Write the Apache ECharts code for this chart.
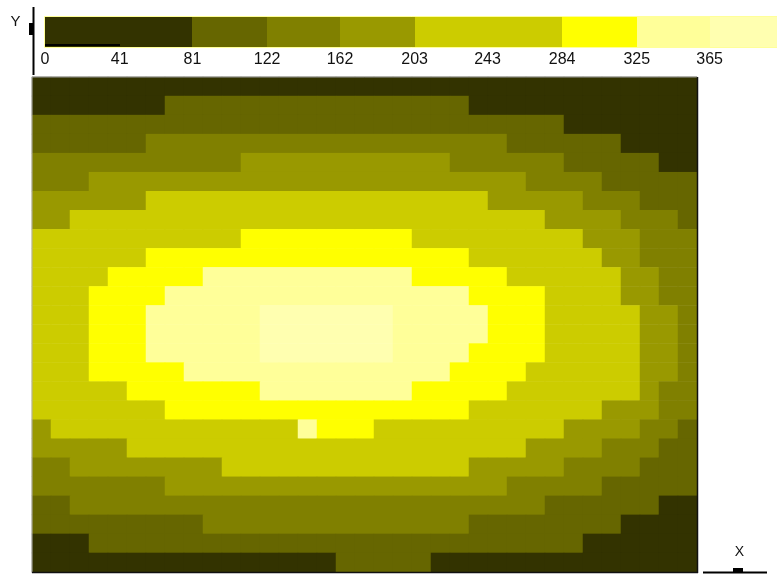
<!DOCTYPE html>
<html><head><meta charset="utf-8">
<script src="https://cdn.jsdelivr.net/npm/echarts@6/dist/echarts.min.js"></script>
<style>html,body{margin:0;padding:0;background:#fff}#c{width:777px;height:575px}</style>
</head><body><div id="c"></div>
<script>
// Grid columns (X) and rows (Y, top to bottom)
const xCols = [0,1,2,3,4,5,6,7,8,9,10,11,12,13,14,15,16,17,18,19,20,21,22,23,24,25,26,27,28,29,30,31,32,33,34];
const yRows = [0,1,2,3,4,5,6,7,8,9,10,11,12,13,14,15,16,17,18,19,20,21,22,23,24,25];

// Field values (one array per row, top to bottom)
const fieldRows = [
[60,60,60,60,60,60,60,60,60,60,60,60,60,60,60,60,60,60,60,60,60,60,60,60,60,60,60,60,60,60,30,30,30,30,30],
[60,60,60,60,60,60,60,100,100,100,100,100,100,100,100,100,100,100,100,100,100,100,100,60,60,60,60,60,60,60,60,60,60,60,60],
[100,100,100,100,100,100,100,100,100,100,100,100,100,100,100,100,100,100,100,100,100,100,100,100,100,100,100,100,60,60,60,60,60,60,60],
[100,100,100,100,100,100,142,142,142,142,142,142,142,142,142,142,142,142,142,142,142,142,142,142,142,100,100,100,100,100,100,60,60,60,60],
[142,142,142,142,142,142,142,142,142,142,142,182,182,182,182,182,182,182,182,182,182,182,142,142,142,142,142,142,100,100,100,100,100,60,60],
[142,142,142,182,182,182,182,182,182,182,182,182,182,182,182,182,182,182,182,182,182,182,182,182,182,182,142,142,142,142,100,100,100,100,100],
[182,182,182,182,182,182,243,243,243,243,243,243,243,243,243,243,243,243,243,243,243,243,243,243,182,182,182,182,182,142,142,142,100,100,100],
[182,182,243,243,243,243,243,243,243,243,243,243,243,243,243,243,243,243,243,243,243,243,243,243,243,243,243,182,182,182,182,142,142,142,100],
[243,243,243,243,243,243,243,243,243,243,243,305,305,305,305,305,305,305,305,305,243,243,243,243,243,243,243,243,243,182,182,182,142,142,142],
[243,243,243,243,243,243,305,305,305,305,305,305,305,305,305,305,305,305,305,305,305,305,305,243,243,243,243,243,243,243,182,182,142,142,142],
[243,243,243,243,305,305,305,305,305,345,345,345,345,345,345,345,345,345,345,345,305,305,305,305,305,243,243,243,243,243,243,182,182,142,142],
[243,243,243,305,305,305,305,345,345,345,345,345,345,345,345,345,345,345,345,345,345,345,345,305,305,305,305,243,243,243,243,182,182,142,142],
[243,243,243,305,305,305,345,345,345,345,345,345,378,378,378,378,378,378,378,345,345,345,345,345,305,305,305,243,243,243,243,243,182,182,142],
[243,243,243,305,305,305,345,345,345,345,345,345,378,378,378,378,378,378,378,345,345,345,345,345,305,305,305,243,243,243,243,243,182,182,142],
[243,243,243,305,305,305,345,345,345,345,345,345,378,378,378,378,378,378,378,345,345,345,345,305,305,305,305,243,243,243,243,243,182,182,142],
[243,243,243,305,305,305,305,305,345,345,345,345,345,345,345,345,345,345,345,345,345,345,305,305,305,305,243,243,243,243,243,243,182,182,142],
[243,243,243,243,243,305,305,305,305,305,305,305,345,345,345,345,345,345,345,345,305,305,305,305,305,243,243,243,243,243,243,243,182,142,142],
[243,243,243,243,243,243,243,305,305,305,305,305,305,305,305,305,305,305,305,305,305,305,305,243,243,243,243,243,243,243,182,182,182,142,142],
[182,243,243,243,243,243,243,243,243,243,243,243,243,243,345,305,305,305,243,243,243,243,243,243,243,243,243,243,182,182,182,182,142,142,100],
[182,182,182,182,182,243,243,243,243,243,243,243,243,243,243,243,243,243,243,243,243,243,243,243,243,243,182,182,182,182,142,142,142,100,100],
[142,142,182,182,182,182,182,182,182,182,243,243,243,243,243,243,243,243,243,243,243,243,243,182,182,182,182,182,142,142,142,142,100,100,100],
[142,142,142,142,142,142,142,182,182,182,182,182,182,182,182,182,182,182,182,182,182,182,182,182,182,142,142,142,142,142,100,100,100,100,100],
[100,100,142,142,142,142,142,142,142,142,142,142,142,142,142,142,142,142,142,142,142,142,142,142,142,142,142,100,100,100,100,100,100,60,60],
[100,100,100,100,100,100,100,100,100,142,142,142,142,142,142,142,142,142,142,142,142,142,142,100,100,100,100,100,100,100,100,60,60,60,60],
[60,60,60,100,100,100,100,100,100,100,100,100,100,100,100,100,100,100,100,100,100,100,100,100,100,100,100,100,100,60,60,60,60,60,60],
[60,60,60,60,60,60,60,60,60,60,60,60,60,60,60,60,100,100,100,100,100,60,60,60,60,60,60,60,60,60,60,60,60,30,30]
];

// Legend: class edges (tick labels) and colours
const legendTicks = [0,41,81,122,162,203,243,284,325,365];
const legendMax = 402;
const legendBins = [[0,41],[41,81],[81,122],[122,162],[162,203],[203,243],[243,284],[284,325],[325,365],[365,402]];
const bandColors = ['#333300','#333300','#666600','#808000','#999900','#cccc00','#cccc00','#ffff00','#ffff99','#ffffb0'];

const heatData = [];
fieldRows.forEach((row, r) => row.forEach((v, c) => heatData.push([c, r, v])));

const pieces = legendBins.map((b, i) => i === legendBins.length - 1
  ? { min: b[0], color: bandColors[i] }
  : { min: b[0], max: b[1], color: bandColors[i] });

const chart = echarts.init(document.getElementById('c'), null, { renderer: 'canvas' });
const textFont = 'Liberation Sans, Arial, sans-serif';

chart.setOption({
  animation: false,
  backgroundColor: '#ffffff',
  grid: [
    { left: 32, top: 77, width: 665, height: 495, show: false },
    { left: 45, top: 17, width: 732, height: 30, show: false }
  ],
  xAxis: [
    { gridIndex: 0, type: 'category', data: xCols, show: false },
    { gridIndex: 1, type: 'value', min: 0, max: legendMax,
      axisLine: { show: false }, axisTick: { show: false }, splitLine: { show: false },
      axisLabel: { customValues: legendTicks, margin: 5, color: '#111', fontSize: 16,
        fontFamily: textFont, formatter: v => String(v) } }
  ],
  yAxis: [
    { gridIndex: 0, type: 'category', data: yRows, inverse: true, show: false },
    { gridIndex: 1, type: 'value', min: 0, max: 1, show: false }
  ],
  visualMap: {
    type: 'piecewise', show: false, dimension: 2, seriesIndex: 0, pieces: pieces
  },
  series: [
    {
      type: 'heatmap', xAxisIndex: 0, yAxisIndex: 0, data: heatData,
      itemStyle: { borderWidth: 0 }, emphasis: { disabled: true }, progressive: 0
    },
    {
      type: 'custom', xAxisIndex: 1, yAxisIndex: 1, silent: true,
      data: legendBins.map((b, i) => [b[0], b[1], i]),
      renderItem: function (params, api) {
        const p0 = api.coord([api.value(0), 1]);
        const p1 = api.coord([api.value(1), 0]);
        const idx = api.value(2);
        const x0 = Math.round(p0[0]), x1 = Math.round(p1[0]);
        const y0 = Math.round(p0[1]), y1 = Math.round(p1[1]);
        const children = [{
          type: 'rect',
          shape: { x: x0, y: y0, width: x1 - x0, height: y1 - y0 },
          style: { fill: bandColors[idx] }
        }];
        if (idx === 0) {
          children.push({ type: 'line', shape: { x1: x0, y1: y1 - 2, x2: x1, y2: y1 - 2 },
            style: { stroke: '#000', lineWidth: 2 } });
        }
        return { type: 'group', children: children };
      }
    }
  ],
  graphic: [
    // legend bar outline
    { type: 'rect', shape: { x: 44.5, y: 16.5, width: 740, height: 31 }, style: { fill: null, stroke: '#ffff99', lineWidth: 1 }, z: 50 },
    // plot frame
    { type: 'line', shape: { x1: 32, y1: 77, x2: 697, y2: 77 }, style: { stroke: '#9a9a9a', lineWidth: 1 }, z: 50 },
    { type: 'line', shape: { x1: 32, y1: 77, x2: 32, y2: 573 }, style: { stroke: '#b0b0b0', lineWidth: 1 }, z: 50 },
    { type: 'line', shape: { x1: 697.5, y1: 77, x2: 697.5, y2: 573 }, style: { stroke: '#111', lineWidth: 1.5 }, z: 50 },
    { type: 'line', shape: { x1: 32, y1: 572.5, x2: 698, y2: 572.5 }, style: { stroke: '#111', lineWidth: 1.5 }, z: 50 },
    // Y axis indicator
    { type: 'line', shape: { x1: 33.5, y1: 7, x2: 33.5, y2: 75 }, style: { stroke: '#000', lineWidth: 2 }, z: 50 },
    { type: 'rect', shape: { x: 29, y: 23, width: 5, height: 12 }, style: { fill: '#000' }, z: 50 },
    { type: 'text', style: { text: 'Y', x: 15.5, y: 21.5, fill: '#111', font: '15px ' + textFont, align: 'center', verticalAlign: 'middle' }, z: 50 },
    // X axis indicator
    { type: 'line', shape: { x1: 703, y1: 572.5, x2: 767, y2: 572.5 }, style: { stroke: '#000', lineWidth: 2 }, z: 50 },
    { type: 'rect', shape: { x: 733, y: 568, width: 10, height: 5 }, style: { fill: '#000' }, z: 50 },
    { type: 'text', style: { text: 'X', x: 739.5, y: 552, fill: '#111', font: '14px ' + textFont, align: 'center', verticalAlign: 'middle' }, z: 50 }
  ]
});
</script>
</body></html>
